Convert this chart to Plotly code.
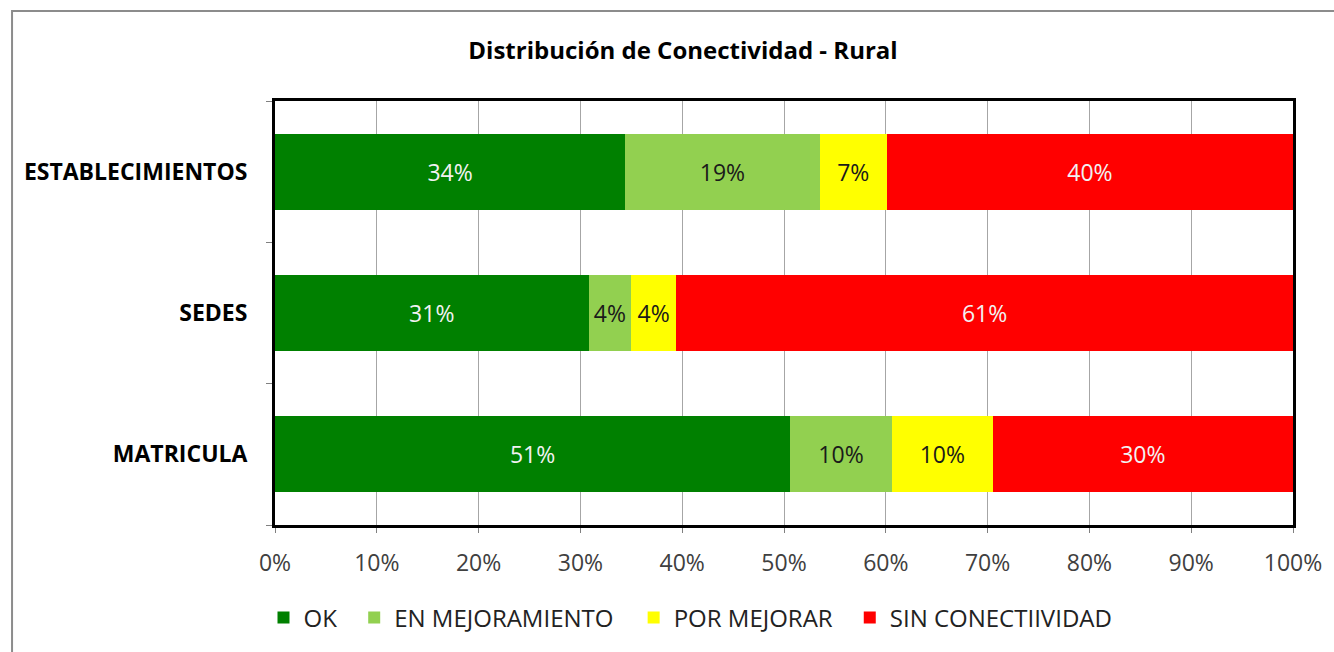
import plotly.graph_objects as go

# Data (percent of each row)
categories = ["ESTABLECIMIENTOS", "SEDES", "MATRICULA"]
series_names = ["OK", "EN MEJORAMIENTO", "POR MEJORAR", "SIN CONECTIIVIDAD"]
ok = [34.4, 30.8, 50.6]
en_mejoramiento = [19.1, 4.2, 10.0]
por_mejorar = [6.6, 4.4, 9.9]
sin_conectividad = [39.9, 60.6, 29.5]
x_ticks = [0, 10, 20, 30, 40, 50, 60, 70, 80, 90, 100]
x_ticklabels = [f"{t}%" for t in x_ticks]

colors = ["#008000", "#92D050", "#FFFF00", "#FF0000"]
text_colors = ["#F2F2F2", "#1A1A1A", "#1A1A1A", "#F2F2F2"]
legend_ids = ["legend", "legend2", "legend3", "legend4"]
legend_x = [-0.0113, 0.0778, 0.3523, 0.5646]

fig = go.Figure()
for name, vals, col, tcol, lid in zip(series_names,
                                      [ok, en_mejoramiento, por_mejorar, sin_conectividad],
                                      colors, text_colors, legend_ids):
    fig.add_trace(go.Bar(
        y=categories, x=vals, name=name, orientation="h", legend=lid,
        marker=dict(color=col, line=dict(width=0)),
        texttemplate="%{x:.0f}%", textposition="inside", insidetextanchor="middle",
        textfont=dict(color=tcol, size=23, family="Open Sans"),
        constraintext="none",
    ))

legend_style = dict(orientation="h", xanchor="left", y=-0.219, yanchor="middle",
                    font=dict(size=24, color="#222222", family="Open Sans"),
                    itemwidth=30, bgcolor="rgba(0,0,0,0)", borderwidth=0)

fig.update_layout(
    barmode="stack",
    bargap=0.46,
    width=1334, height=652,
    margin=dict(l=275, r=37, t=101, b=127),
    paper_bgcolor="white", plot_bgcolor="white",
    title=dict(text="<b>Distribución de Conectividad - Rural</b>", x=0.512, xanchor="center",
               y=0.923, yanchor="middle", font=dict(size=24, color="black", family="Open Sans")),
    showlegend=True,
    font=dict(family="Open Sans"),
)
for lid, lx in zip(legend_ids, legend_x):
    fig.update_layout({lid: dict(legend_style, x=lx)})

fig.update_xaxes(
    range=[0, 100], tickvals=x_ticks, ticktext=x_ticklabels,
    showgrid=True, gridcolor="#A6A6A6", gridwidth=1,
    showline=True, linecolor="black", linewidth=3, mirror=True,
    ticks="outside", ticklen=5, tickcolor="#808080",
    tickfont=dict(size=23, color="#404040", family="Open Sans"),
    ticklabelstandoff=10,
    zeroline=False,
)
fig.update_yaxes(
    categoryorder="array", categoryarray=categories[::-1],
    showline=True, linecolor="black", linewidth=3, mirror=True,
    ticks="outside", tickson="boundaries", ticklen=6, tickcolor="#808080",
    tickfont=dict(size=23, color="black", family="Open Sans"),
    ticklabelstandoff=20,
    showgrid=False,
)
fig.update_yaxes(ticktext=[f"<b>{c}</b>" for c in categories[::-1]], tickvals=categories[::-1])

# outer chart border
fig.add_shape(type="rect", xref="paper", yref="paper",
              x0=-0.2583, x1=1.042, y0=-0.318, y1=1.2123,
              line=dict(color="#8C8C8C", width=2), fillcolor="rgba(0,0,0,0)", layer="below")

fig.write_html("out.html", config={"displayModeBar": False},
               post_script="document.body.style.margin='0px';")
